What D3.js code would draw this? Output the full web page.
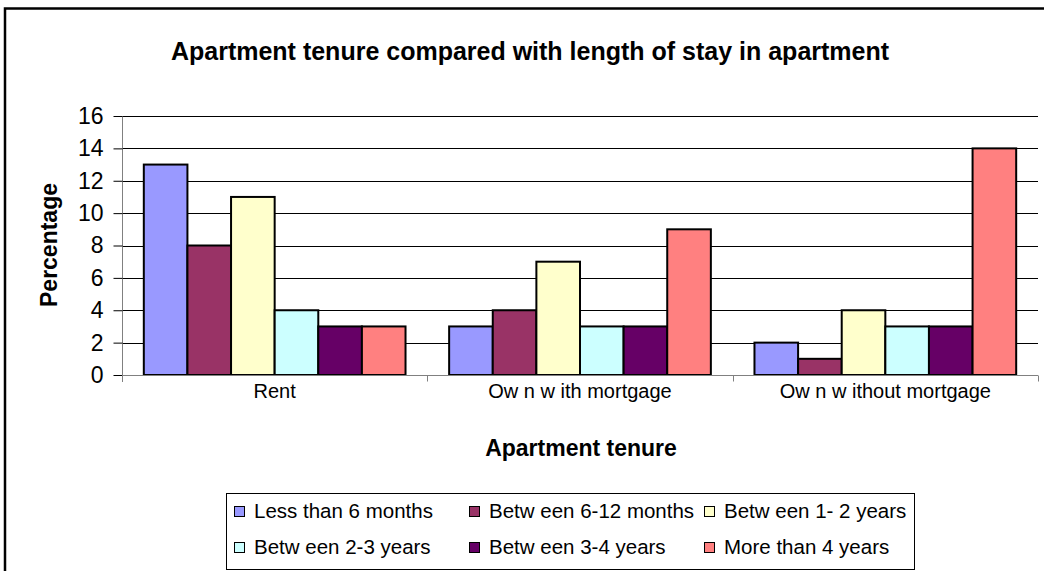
<!DOCTYPE html>
<html>
<head>
<meta charset="utf-8">
<script src="https://cdn.jsdelivr.net/npm/d3@7"></script>
<style>
  body { margin: 0; background: #fff; }
  svg { display: block; font-family: "Liberation Sans", Arial, sans-serif; }
</style>
</head>
<body>
<svg id="chart" width="1044" height="571"></svg>
<script>
// data
const categories = ["Rent", "Ow n w ith mortgage", "Ow n w ithout mortgage"];
const seriesNames = ["Less than 6 months", "Betw een 6-12 months", "Betw een 1- 2 years",
                     "Betw een 2-3 years", "Betw een 3-4 years", "More than 4 years"];
const seriesColors = ["#9999FF", "#993366", "#FFFFCC", "#CCFFFF", "#660066", "#FF8080"];
const values = [
    [13, 8, 11, 4, 3, 3],   // Rent
    [3, 4, 7, 3, 3, 9],     // Own with mortgage
    [2, 1, 4, 3, 3, 14]     // Own without mortgage
];
const yTicks = [0, 2, 4, 6, 8, 10, 12, 14, 16];

const svg = d3.select("#chart");

// outer chart frame (cropped at right and bottom)
svg.append("path")
    .attr("d", "M5,571 L5,8.5 L1044,8.5")
    .attr("fill", "none")
    .attr("stroke", "#000")
    .attr("stroke-width", 2.5);

const plot = { left: 122, right: 1038, top: 116, bottom: 375 };

const x0 = d3.scaleBand()
    .domain(categories)
    .range([plot.left, plot.right]);

const x1 = d3.scaleBand()
    .domain(d3.range(seriesNames.length))
    .range([0, x0.bandwidth()])
    .paddingOuter(0.5);

const y = d3.scaleLinear()
    .domain([0, 16])
    .range([plot.bottom, plot.top]);

// gridlines
svg.append("g")
    .selectAll("line")
    .data(yTicks.filter(d => d > 0))
    .join("line")
    .attr("x1", plot.left)
    .attr("x2", plot.right)
    .attr("y1", d => Math.round(y(d)) + 0.5)
    .attr("y2", d => Math.round(y(d)) + 0.5)
    .attr("stroke", "#000")
    .attr("stroke-width", 1);

// bars
svg.append("g")
    .selectAll("g")
    .data(values)
    .join("g")
    .attr("transform", (d, i) => `translate(${x0(categories[i])},0)`)
    .selectAll("rect")
    .data(d => d)
    .join("rect")
    .attr("x", (d, j) => x1(j))
    .attr("y", d => y(d))
    .attr("width", x1.bandwidth())
    .attr("height", d => plot.bottom - y(d))
    .attr("fill", (d, j) => seriesColors[j])
    .attr("stroke", "#000")
    .attr("stroke-width", 2);

// y axis
const yAxis = svg.append("g")
    .attr("transform", `translate(${plot.left + 0.5},0)`)
    .call(d3.axisLeft(y).tickValues(yTicks).tickSize(9).tickPadding(10));
yAxis.select(".domain").attr("stroke", "#808080").attr("d", `M0,${plot.top}V${plot.bottom + 7}`);
yAxis.selectAll(".tick line").attr("stroke", "#000");
yAxis.selectAll(".tick text")
    .style("font-size", "23px")
    .style("font-family", "Liberation Sans, Arial, sans-serif")
    .attr("fill", "#000");

// x axis
const xAxis = svg.append("g")
    .attr("transform", `translate(0,${plot.bottom + 0.5})`)
    .call(d3.axisBottom(x0).tickSize(0).tickPadding(8));
xAxis.select(".domain").attr("stroke", "#808080").attr("d", `M${plot.left},0H${plot.right}`);
xAxis.selectAll(".tick text")
    .style("font-size", "20px")
    .style("font-family", "Liberation Sans, Arial, sans-serif")
    .attr("fill", "#000");
// category boundary ticks
xAxis.append("g")
    .selectAll("line")
    .data(categories.map(c => x0(c)).concat([plot.right]))
    .join("line")
    .attr("x1", d => Math.round(d) + 0.5)
    .attr("x2", d => Math.round(d) + 0.5)
    .attr("y1", 0)
    .attr("y2", 6)
    .attr("stroke", "#808080");

// titles
svg.append("text")
    .attr("x", 530)
    .attr("y", 60)
    .attr("text-anchor", "middle")
    .style("font-size", "25px")
    .attr("font-weight", "bold")
    .text("Apartment tenure compared with length of stay in apartment");

svg.append("text")
    .attr("x", 581)
    .attr("y", 456)
    .attr("text-anchor", "middle")
    .style("font-size", "23px")
    .attr("font-weight", "bold")
    .text("Apartment tenure");

svg.append("text")
    .attr("transform", `translate(57,245) rotate(-90)`)
    .attr("text-anchor", "middle")
    .style("font-size", "23px")
    .attr("font-weight", "bold")
    .text("Percentage");

// legend
const legend = svg.append("g").attr("transform", "translate(226,493)");
legend.append("rect")
    .attr("x", 0.5).attr("y", 0.5)
    .attr("width", 688).attr("height", 76)
    .attr("fill", "#fff")
    .attr("stroke", "#000");

const colX = [8, 243, 478];
const rowY = [25, 61];
const items = legend.selectAll("g.item")
    .data(seriesNames)
    .join("g")
    .attr("class", "item")
    .attr("transform", (d, i) => `translate(${colX[i % 3]},${rowY[Math.floor(i / 3)]})`);
items.append("rect")
    .attr("x", 0.5).attr("y", -11.5)
    .attr("width", 10).attr("height", 10)
    .attr("fill", (d, i) => seriesColors[i])
    .attr("stroke", "#000")
    .attr("stroke-width", 1);
items.append("text")
    .attr("x", 20)
    .attr("y", 0)
    .style("font-size", "20.5px")
    .text(d => d);
</script>
</body>
</html>
